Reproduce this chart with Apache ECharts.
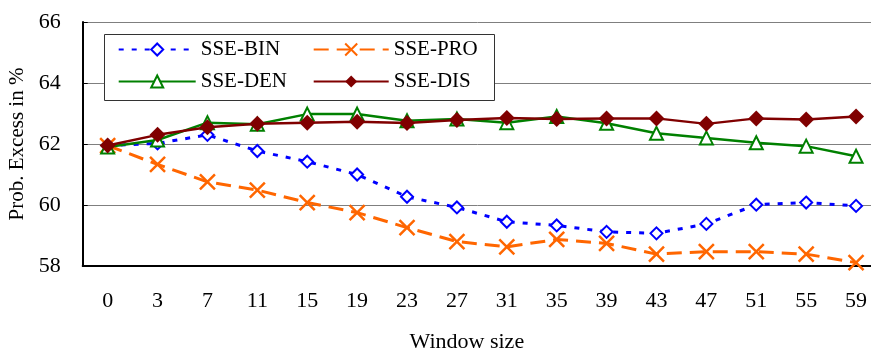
<!DOCTYPE html>
<html>
<head>
<meta charset="utf-8">
<script src="https://cdn.jsdelivr.net/npm/echarts@6/dist/echarts.min.js"></script>
<style>html,body{margin:0;padding:0;background:#fff;}#c{width:871px;height:354px;}</style>
</head>
<body>
<div id="c"></div>
<script>
const categories = ['0','3','7','11','15','19','23','27','31','35','39','43','47','51','55','59'];
const sseBin = [61.95, 62.02, 62.30, 61.77, 61.42, 61.00, 60.27, 59.92, 59.45, 59.33, 59.12, 59.07, 59.38, 60.01, 60.08, 59.97];
const ssePro = [61.95, 61.33, 60.76, 60.49, 60.08, 59.75, 59.26, 58.80, 58.63, 58.87, 58.74, 58.39, 58.47, 58.47, 58.39, 58.11];
const sseDen = [61.90, 62.13, 62.70, 62.65, 62.98, 62.98, 62.76, 62.82, 62.70, 62.90, 62.68, 62.35, 62.20, 62.04, 61.93, 61.60];
const sseDis = [61.95, 62.30, 62.55, 62.66, 62.70, 62.73, 62.69, 62.79, 62.85, 62.82, 62.84, 62.84, 62.66, 62.84, 62.80, 62.90];
const yTicks = [58, 60, 62, 64, 66];

const FONT = '"Liberation Serif", "Times New Roman", serif';
const chart = echarts.init(document.getElementById('c'), null, {renderer: 'canvas'});
const X_PATH = 'path://M0,0L10,10M10,0L0,10';

const legendText = {fontFamily: FONT, fontSize: 21, color: '#000', lineHeight: 22};

chart.setOption({
  animation: false,
  backgroundColor: '#fff',
  grid: {left: 82.7, right: -10, top: 22, bottom: 88, containLabel: false, outerBoundsMode: 'none'},
  graphic: [{
    type: 'rect', z: 10,
    shape: {x: 104.5, y: 34.5, width: 390, height: 66},
    style: {fill: '#fff', stroke: '#333', lineWidth: 1}
  }],
  legend: [{
    z: 20, orient: 'vertical', left: 112.7, top: 33.5,
    itemWidth: 77, itemHeight: 15, itemGap: 10,
    textStyle: legendText,
    data: ['SSE-BIN', 'SSE-DEN']
  }, {
    z: 20, orient: 'vertical', left: 307.7, top: 33.5,
    itemWidth: 75, itemHeight: 15, itemGap: 10,
    textStyle: legendText,
    data: ['SSE-PRO', 'SSE-DIS']
  }],
  xAxis: {
    type: 'category', data: categories, boundaryGap: true,
    name: 'Window size', nameLocation: 'middle', nameGap: 65,
    nameTextStyle: {fontFamily: FONT, fontSize: 22, color: '#000', padding: [0, 30, 0, 0]},
    axisLine: {lineStyle: {color: '#000', width: 2}},
    axisTick: {inside: true, length: 5, interval: 0, lineStyle: {color: '#000', width: 1}},
    axisLabel: {fontFamily: FONT, fontSize: 22, color: '#000', margin: 24, interval: 0},
    splitLine: {show: false}
  },
  yAxis: {
    type: 'value', min: yTicks[0], max: yTicks[yTicks.length - 1], interval: 2,
    name: 'Prob. Excess in %', nameLocation: 'middle', nameGap: 53, nameRotate: 90,
    nameTextStyle: {fontFamily: FONT, fontSize: 21, color: '#000'},
    axisLine: {show: true, lineStyle: {color: '#000', width: 2}},
    axisTick: {show: true, inside: true, length: 5, lineStyle: {color: '#000'}},
    axisLabel: {fontFamily: FONT, fontSize: 22, color: '#000', margin: 22},
    splitLine: {show: true, lineStyle: {color: '#7f7f7f', width: 1}}
  },
  series: [{
    name: 'SSE-BIN', type: 'line', data: sseBin, z: 3,
    symbol: 'emptyDiamond', symbolSize: 12,
    lineStyle: {color: '#0000ff', width: 3, type: [5, 8]},
    itemStyle: {color: '#0000ff', borderWidth: 2.5}
  }, {
    name: 'SSE-PRO', type: 'line', data: ssePro, z: 2,
    symbol: X_PATH, symbolSize: 15,
    lineStyle: {color: '#ff6600', width: 3, type: [15, 8]},
    itemStyle: {color: '#ff6600', borderColor: '#ff6600', borderWidth: 2.5}
  }, {
    name: 'SSE-DEN', type: 'line', data: sseDen, z: 4,
    symbol: 'emptyTriangle', symbolSize: 13,
    lineStyle: {color: '#008000', width: 2.5, type: 'solid'},
    itemStyle: {color: '#008000', borderWidth: 2.5}
  }, {
    name: 'SSE-DIS', type: 'line', data: sseDis, z: 5,
    symbol: 'diamond', symbolSize: 16,
    lineStyle: {color: '#800000', width: 2.5, type: 'solid'},
    itemStyle: {color: '#800000'}
  }]
});
</script>
</body>
</html>
